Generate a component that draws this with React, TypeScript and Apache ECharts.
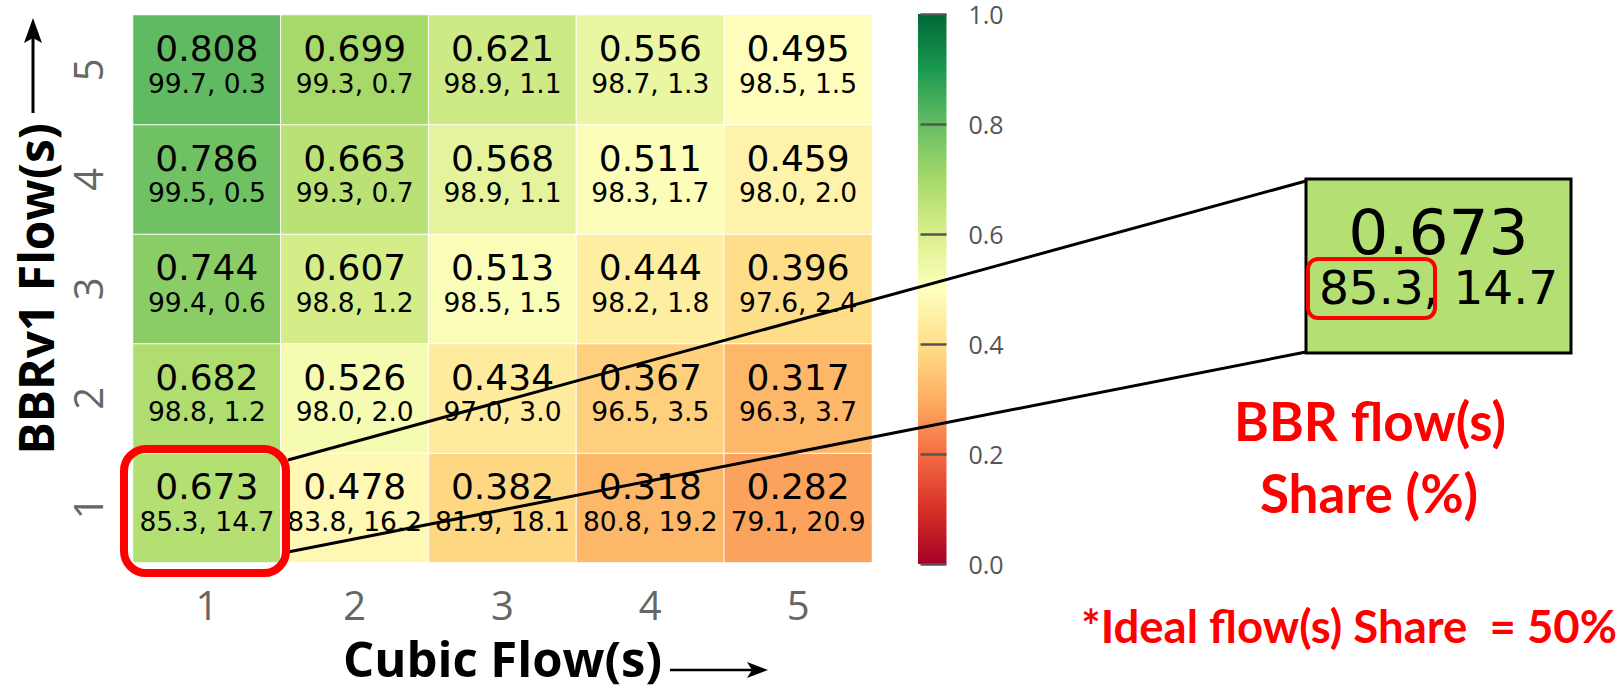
import React, { useEffect, useRef } from "react";
import * as echarts from "echarts";

// Categories
const cubicFlows = ["1", "2", "3", "4", "5"];
const bbrFlows = ["1", "2", "3", "4", "5"];

// Rows: BBRv1 flows 1 (bottom) .. 5 (top); columns: Cubic flows 1..5
const fairness = [
  [0.673, 0.478, 0.382, 0.318, 0.282],
  [0.682, 0.526, 0.434, 0.367, 0.317],
  [0.744, 0.607, 0.513, 0.444, 0.396],
  [0.786, 0.663, 0.568, 0.511, 0.459],
  [0.808, 0.699, 0.621, 0.556, 0.495],
];
const bbrShare = [
  [85.3, 83.8, 81.9, 80.8, 79.1],
  [98.8, 98.0, 97.0, 96.5, 96.3],
  [99.4, 98.8, 98.5, 98.2, 97.6],
  [99.5, 99.3, 98.9, 98.3, 98.0],
  [99.7, 99.3, 98.9, 98.7, 98.5],
];
const cubicShare = [
  [14.7, 16.2, 18.1, 19.2, 20.9],
  [1.2, 2.0, 3.0, 3.5, 3.7],
  [0.6, 1.2, 1.5, 1.8, 2.4],
  [0.5, 0.7, 1.1, 1.7, 2.0],
  [0.3, 0.7, 1.1, 1.3, 1.5],
];

const rdYlGn = [
  "#a50026", "#d73027", "#f46d43", "#fdae61", "#fee08b", "#ffffbf",
  "#d9ef8b", "#a6d96a", "#66bd63", "#1a9850", "#006837",
];

const colorbarMin = 0;
const colorbarMax = 1;
const colorbarStep = 0.2;

const highlightText = "BBR flow(s)";
const highlightText2 = "Share (%)";
const idealText = "*Ideal flow(s) Share  = 50%";

export default function App() {
  const ref = useRef<HTMLDivElement>(null);

  useEffect(() => {
    if (!ref.current) return;
    const chart = echarts.init(ref.current, undefined, { renderer: "svg" });

    const data: any[] = [];
    for (let r = 0; r < bbrFlows.length; r++) {
      for (let c = 0; c < cubicFlows.length; c++) {
        data.push([c, r, fairness[r][c], bbrShare[r][c], cubicShare[r][c]]);
      }
    }

    const zoomVal = fairness[0][0];
    const zoomColor = echarts.color.lerp(
      (zoomVal - colorbarMin) / (colorbarMax - colorbarMin),
      rdYlGn
    );

    const red = "#ff0000";

    const option: any = {
      animation: false,
      backgroundColor: "#ffffff",
      grid: [
        { left: 133, top: 15, width: 739, height: 550 },
        { left: 918, top: 14, width: 28.5, height: 550 },
      ],
      xAxis: [
        {
          type: "category",
          gridIndex: 0,
          data: cubicFlows,
          axisLine: { show: false },
          axisTick: { show: false },
          splitLine: { show: false },
          axisLabel: {
            color: "#666",
            fontSize: 40,
            lineHeight: 34,
            fontFamily: "Open Sans",
            margin: 25,
          },
          name: "Cubic Flow(s)",
          nameLocation: "middle",
          nameGap: 76,
          nameTextStyle: {
            color: "#000",
            fontSize: 49,
            lineHeight: 38,
            fontWeight: "bold",
            fontFamily: "Open Sans",
          },
        },
        {
          type: "value",
          gridIndex: 1,
          show: false,
          min: 0,
          max: 1,
        },
      ],
      yAxis: [
        {
          type: "category",
          gridIndex: 0,
          data: bbrFlows,
          axisLine: { show: false },
          axisTick: { show: false },
          splitLine: { show: false },
          axisLabel: {
            color: "#666",
            fontSize: 40,
            lineHeight: 36,
            fontFamily: "Open Sans",
            rotate: 90,
            margin: 28,
          },
          name: "BBRv1 Flow(s)",
          nameLocation: "middle",
          nameGap: 78,
          nameRotate: 90,
          nameTextStyle: {
            color: "#000",
            fontSize: 48,
            lineHeight: 40,
            fontWeight: "bold",
            fontFamily: "Open Sans",
          },
        },
        {
          type: "value",
          gridIndex: 1,
          position: "right",
          min: colorbarMin,
          max: colorbarMax,
          interval: colorbarStep,
          z: 10,
          axisLine: { show: false, onZero: false },
          splitLine: { show: false },
          axisTick: {
            show: true,
            inside: true,
            length: 26,
            lineStyle: { color: "#555", width: 2.5 },
          },
          axisLabel: {
            margin: 22,
            color: "#555",
            fontSize: 25,
            lineHeight: 22,
            fontFamily: "Open Sans",
            formatter: (v: number) => v.toFixed(1),
          },
        },
      ],
      visualMap: {
        show: false,
        type: "continuous",
        min: colorbarMin,
        max: colorbarMax,
        dimension: 2,
        seriesIndex: 0,
        inRange: { color: rdYlGn },
      },
      series: [
        {
          type: "heatmap",
          xAxisIndex: 0,
          yAxisIndex: 0,
          data,
          itemStyle: { borderColor: "#ffffff", borderWidth: 1 },
          emphasis: { disabled: true },
          label: {
            show: true,
            offset: [0, -5],
            formatter: (p: any) =>
              `{a|${p.value[2].toFixed(3)}}\n{b|${p.value[3].toFixed(1)}, ${p.value[4].toFixed(1)}}`,
            rich: {
              a: {
                fontFamily: "DejaVu Sans",
                fontSize: 36,
                color: "#000",
                lineHeight: 37,
                align: "center",
              },
              b: {
                fontFamily: "DejaVu Sans",
                fontSize: 26.5,
                color: "#000",
                lineHeight: 32,
                align: "center",
              },
            },
          },
        },
      ],
      graphic: [
        // colorbar gradient
        {
          type: "rect",
          z: 1,
          shape: { x: 918, y: 14, width: 28.5, height: 550 },
          style: {
            fill: {
              type: "linear",
              x: 0,
              y: 1,
              x2: 0,
              y2: 0,
              colorStops: rdYlGn.map((c, i) => ({
                offset: i / (rdYlGn.length - 1),
                color: c,
              })),
            },
          },
        },
        // y-axis name arrow
        {
          type: "line",
          z: 100,
          shape: { x1: 33, y1: 113, x2: 33, y2: 36 },
          style: { stroke: "#000", lineWidth: 3 },
        },
        {
          type: "polygon",
          z: 100,
          shape: { points: [[33, 18], [24, 43], [33, 38], [42, 43]] },
          style: { fill: "#000" },
        },
        // x-axis name arrow
        {
          type: "line",
          z: 100,
          shape: { x1: 670, y1: 670, x2: 755, y2: 670 },
          style: { stroke: "#000", lineWidth: 2.5 },
        },
        {
          type: "polygon",
          z: 100,
          shape: { points: [[768, 670], [747, 662], [752, 670], [747, 678]] },
          style: { fill: "#000" },
        },
        // connector lines
        {
          type: "line",
          z: 100,
          shape: { x1: 288, y1: 460, x2: 1306, y2: 181 },
          style: { stroke: "#000", lineWidth: 3 },
        },
        {
          type: "line",
          z: 100,
          shape: { x1: 288, y1: 552, x2: 1306, y2: 352 },
          style: { stroke: "#000", lineWidth: 3 },
        },
        // red rounded rectangle around cell (1,1)
        {
          type: "rect",
          z: 101,
          shape: { x: 124, y: 449, width: 162, height: 124, r: 22 },
          style: { fill: "none", stroke: red, lineWidth: 8 },
        },
        // zoom box
        {
          type: "rect",
          z: 100,
          shape: { x: 1306, y: 179, width: 265, height: 174 },
          style: { fill: zoomColor, stroke: "#000", lineWidth: 3 },
        },
        {
          type: "text",
          z: 102,
          x: 1438.5,
          y: 232,
          style: {
            text: zoomVal.toFixed(3),
            fontFamily: "DejaVu Sans",
            fontSize: 63,
            fill: "#000",
            align: "center",
            verticalAlign: "middle",
          },
        },
        {
          type: "text",
          z: 102,
          x: 1438.5,
          y: 287,
          style: {
            text: `${bbrShare[0][0].toFixed(1)}, ${cubicShare[0][0].toFixed(1)}`,
            fontFamily: "DejaVu Sans",
            fontSize: 47,
            fill: "#000",
            align: "center",
            verticalAlign: "middle",
          },
        },
        {
          type: "rect",
          z: 103,
          shape: { x: 1308, y: 259, width: 127, height: 59, r: 10 },
          style: { fill: "none", stroke: red, lineWidth: 4 },
        },
        // red annotation texts
        {
          type: "text",
          z: 100,
          x: 1370,
          y: 420,
          style: {
            text: highlightText,
            fontFamily: "Lato",
            fontWeight: "bold",
            fontSize: 53,
            fill: red,
            align: "center",
            verticalAlign: "middle",
          },
        },
        {
          type: "text",
          z: 100,
          x: 1369,
          y: 492,
          style: {
            text: highlightText2,
            fontFamily: "Lato",
            fontWeight: "bold",
            fontSize: 53,
            fill: red,
            align: "center",
            verticalAlign: "middle",
          },
        },
        {
          type: "text",
          z: 100,
          x: 1617,
          y: 625,
          style: {
            text: idealText,
            fontFamily: "Lato",
            fontWeight: "bold",
            fontSize: 45.5,
            fill: red,
            align: "right",
            verticalAlign: "middle",
          },
        },
      ],
    };

    chart.setOption(option);
    return () => chart.dispose();
  }, []);

  return (
    <div
      ref={ref}
      style={{
        position: "fixed",
        left: 0,
        top: 0,
        width: "1622px",
        height: "687px",
      }}
    />
  );
}
